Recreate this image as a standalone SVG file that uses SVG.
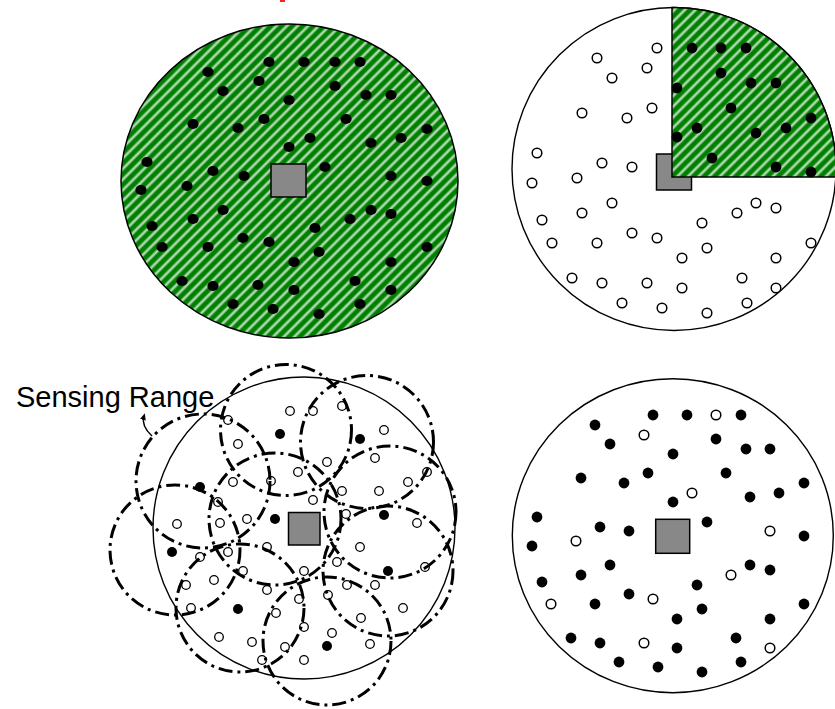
<svg xmlns="http://www.w3.org/2000/svg" width="835" height="709" viewBox="0 0 835 709">
<defs>
<linearGradient id="stripe" x1="0" y1="0" x2="1" y2="0">
<stop offset="0" stop-color="#008000"/>
<stop offset="0.22" stop-color="#008000"/>
<stop offset="0.5" stop-color="#e0f0e0"/>
<stop offset="0.78" stop-color="#008000"/>
<stop offset="1" stop-color="#008000"/>
</linearGradient>
<pattern id="hatch" patternUnits="userSpaceOnUse" width="7.5" height="7.5" patternTransform="rotate(45)">
<rect width="7.5" height="7.5" fill="url(#stripe)"/>
</pattern>
<marker id="arrowhead" markerWidth="8" markerHeight="8" refX="4" refY="4" orient="auto" markerUnits="userSpaceOnUse">
<path d="M0,1 L7,4 L0,7 Z" fill="#000"/>
</marker>
<style>
.outline{fill:none;stroke:#000;stroke-width:1.4}
.field{fill:url(#hatch);stroke:#000;stroke-width:1.5}
.sink{fill:#888;stroke:#000;stroke-width:1.5}
.f{fill:#000}
.h{fill:#fff;stroke:#000;stroke-width:1.5}
.hs{fill:#fff;stroke:#000;stroke-width:1.3}
.range{fill:none;stroke:#000;stroke-width:3;stroke-dasharray:14 5 3 5}
.label{font-family:"Liberation Sans",Arial,sans-serif;font-size:29px;fill:#000}
</style>
</defs>
<rect width="835" height="709" fill="#fff"/>
<path d="M280,0 h5 v2 h-5 Z" fill="#ff2020"/>

<g id="panel-full">
<ellipse class="field" cx="289.5" cy="181" rx="168.5" ry="157"/>
<rect class="sink" x="271" y="164" width="35" height="33"/>
<g class="f">
<ellipse cx="208" cy="72" rx="5.6" ry="5"/><ellipse cx="269" cy="62" rx="5.6" ry="5"/><ellipse cx="259" cy="81" rx="5.6" ry="5"/><ellipse cx="223" cy="91" rx="5.6" ry="5"/><ellipse cx="289" cy="100" rx="5.6" ry="5"/><ellipse cx="193" cy="124" rx="5.6" ry="5"/><ellipse cx="238" cy="128" rx="5.6" ry="5"/><ellipse cx="264" cy="119" rx="5.6" ry="5"/><ellipse cx="289" cy="147" rx="5.6" ry="5"/><ellipse cx="147" cy="162" rx="5.6" ry="5"/><ellipse cx="213" cy="171" rx="5.6" ry="5"/><ellipse cx="304" cy="62" rx="5.6" ry="5"/><ellipse cx="335" cy="62" rx="5.6" ry="5"/><ellipse cx="360" cy="62" rx="5.6" ry="5"/><ellipse cx="335" cy="86" rx="5.6" ry="5"/><ellipse cx="366" cy="95" rx="5.6" ry="5"/><ellipse cx="391" cy="95" rx="5.6" ry="5"/><ellipse cx="346" cy="119" rx="5.6" ry="5"/><ellipse cx="310" cy="138" rx="5.6" ry="5"/><ellipse cx="371" cy="143" rx="5.6" ry="5"/><ellipse cx="401" cy="138" rx="5.6" ry="5"/><ellipse cx="427" cy="129" rx="5.6" ry="5"/><ellipse cx="325" cy="167" rx="5.6" ry="5"/><ellipse cx="244" cy="176" rx="5.6" ry="5"/><ellipse cx="141" cy="190" rx="5.6" ry="5"/><ellipse cx="187" cy="186" rx="5.6" ry="5"/><ellipse cx="223" cy="210" rx="5.6" ry="5"/><ellipse cx="152" cy="226" rx="5.6" ry="5"/><ellipse cx="193" cy="219" rx="5.6" ry="5"/><ellipse cx="162" cy="247" rx="5.6" ry="5"/><ellipse cx="208" cy="247" rx="5.6" ry="5"/><ellipse cx="243" cy="238" rx="5.6" ry="5"/><ellipse cx="269" cy="242" rx="5.6" ry="5"/><ellipse cx="294" cy="262" rx="5.6" ry="5"/><ellipse cx="182" cy="281" rx="5.6" ry="5"/><ellipse cx="213" cy="286" rx="5.6" ry="5"/><ellipse cx="258" cy="285" rx="5.6" ry="5"/><ellipse cx="294" cy="290" rx="5.6" ry="5"/><ellipse cx="233" cy="304" rx="5.6" ry="5"/><ellipse cx="273" cy="309" rx="5.6" ry="5"/><ellipse cx="391" cy="176" rx="5.6" ry="5"/><ellipse cx="427" cy="181" rx="5.6" ry="5"/><ellipse cx="371" cy="210" rx="5.6" ry="5"/><ellipse cx="391" cy="214" rx="5.6" ry="5"/><ellipse cx="350" cy="219" rx="5.6" ry="5"/><ellipse cx="315" cy="228" rx="5.6" ry="5"/><ellipse cx="319" cy="252" rx="5.6" ry="5"/><ellipse cx="391" cy="262" rx="5.6" ry="5"/><ellipse cx="427" cy="247" rx="5.6" ry="5"/><ellipse cx="355" cy="281" rx="5.6" ry="5"/><ellipse cx="391" cy="290" rx="5.6" ry="5"/><ellipse cx="360" cy="304" rx="5.6" ry="5"/><ellipse cx="319" cy="314" rx="5.6" ry="5"/>
</g>
</g>

<g id="panel-quadrant">
<ellipse class="outline" cx="674" cy="169" rx="162" ry="161.5"/>
<rect class="sink" x="656.5" y="154" width="35" height="36"/>
<path class="field" d="M672,177 L672,7.5 A162,161.5 0 0 1 835.8,177 Z"/>
<g class="f">
<circle cx="692" cy="48" r="5.4"/><circle cx="721" cy="48" r="5.4"/><circle cx="746" cy="48" r="5.4"/><circle cx="721" cy="73" r="5.4"/><circle cx="751" cy="83" r="5.4"/><circle cx="776" cy="83" r="5.4"/><circle cx="677" cy="88" r="5.4"/><circle cx="731" cy="108" r="5.4"/><circle cx="697" cy="128" r="5.4"/><circle cx="677" cy="137" r="5.4"/><circle cx="756" cy="133" r="5.4"/><circle cx="786" cy="128" r="5.4"/><circle cx="811" cy="118" r="5.4"/><circle cx="712" cy="158" r="5.4"/><circle cx="776" cy="167" r="5.4"/><circle cx="811" cy="172" r="5.4"/>
</g>
<g class="h">
<circle cx="657" cy="48" r="4.8"/><circle cx="597" cy="58" r="4.8"/><circle cx="647" cy="68" r="4.8"/><circle cx="612" cy="78" r="4.8"/><circle cx="582" cy="113" r="4.8"/><circle cx="652" cy="108" r="4.8"/><circle cx="627" cy="118" r="4.8"/><circle cx="537" cy="153" r="4.8"/><circle cx="602" cy="163" r="4.8"/><circle cx="632" cy="167" r="4.8"/><circle cx="532" cy="183" r="4.8"/><circle cx="577" cy="178" r="4.8"/><circle cx="612" cy="203" r="4.8"/><circle cx="582" cy="213" r="4.8"/><circle cx="542" cy="220" r="4.8"/><circle cx="552" cy="243" r="4.8"/><circle cx="597" cy="243" r="4.8"/><circle cx="632" cy="233" r="4.8"/><circle cx="657" cy="238" r="4.8"/><circle cx="702" cy="223" r="4.8"/><circle cx="737" cy="213" r="4.8"/><circle cx="756" cy="203" r="4.8"/><circle cx="776" cy="208" r="4.8"/><circle cx="811" cy="243" r="4.8"/><circle cx="776" cy="258" r="4.8"/><circle cx="707" cy="248" r="4.8"/><circle cx="682" cy="258" r="4.8"/><circle cx="572" cy="278" r="4.8"/><circle cx="602" cy="283" r="4.8"/><circle cx="647" cy="283" r="4.8"/><circle cx="682" cy="288" r="4.8"/><circle cx="742" cy="278" r="4.8"/><circle cx="776" cy="288" r="4.8"/><circle cx="622" cy="303" r="4.8"/><circle cx="662" cy="308" r="4.8"/><circle cx="707" cy="313" r="4.8"/><circle cx="747" cy="303" r="4.8"/>
</g>
</g>

<g id="panel-ranges">
<circle class="outline" cx="304" cy="528" r="151"/>
<rect class="sink" x="288.5" y="512.5" width="31.5" height="32.5"/>
<g class="hs">
<circle cx="290" cy="411" r="4.3"/><circle cx="313" cy="411" r="4.3"/><circle cx="342" cy="406" r="4.3"/><circle cx="228" cy="420" r="4.3"/><circle cx="238" cy="444" r="4.3"/><circle cx="384" cy="430" r="4.3"/><circle cx="375" cy="458" r="4.3"/><circle cx="327" cy="462" r="4.3"/><circle cx="298" cy="472" r="4.3"/><circle cx="271" cy="481" r="4.3"/><circle cx="233" cy="482" r="4.3"/><circle cx="342" cy="491" r="4.3"/><circle cx="379" cy="491" r="4.3"/><circle cx="408" cy="482" r="4.3"/><circle cx="427" cy="472" r="4.3"/><circle cx="313" cy="500" r="4.3"/><circle cx="218" cy="502" r="4.3"/><circle cx="346" cy="514" r="4.3"/><circle cx="417" cy="523" r="4.3"/><circle cx="177" cy="524" r="4.3"/><circle cx="220" cy="523" r="4.3"/><circle cx="247" cy="519" r="4.3"/><circle cx="267" cy="547" r="4.3"/><circle cx="360" cy="547" r="4.3"/><circle cx="200" cy="557" r="4.3"/><circle cx="228" cy="552" r="4.3"/><circle cx="337" cy="562" r="4.3"/><circle cx="243" cy="571" r="4.3"/><circle cx="304" cy="571" r="4.3"/><circle cx="425" cy="567" r="4.3"/><circle cx="186" cy="585" r="4.3"/><circle cx="214" cy="580" r="4.3"/><circle cx="267" cy="590" r="4.3"/><circle cx="347" cy="585" r="4.3"/><circle cx="375" cy="585" r="4.3"/><circle cx="299" cy="599" r="4.3"/><circle cx="328" cy="595" r="4.3"/><circle cx="191" cy="608" r="4.3"/><circle cx="276" cy="613" r="4.3"/><circle cx="403" cy="608" r="4.3"/><circle cx="361" cy="618" r="4.3"/><circle cx="304" cy="627" r="4.3"/><circle cx="332" cy="633" r="4.3"/><circle cx="219" cy="637" r="4.3"/><circle cx="252" cy="642" r="4.3"/><circle cx="285" cy="647" r="4.3"/><circle cx="370" cy="644" r="4.3"/><circle cx="262" cy="660" r="4.3"/><circle cx="304" cy="660" r="4.3"/>
</g>
<g class="f">
<circle cx="200" cy="487" r="5"/><circle cx="280" cy="434" r="5"/><circle cx="360" cy="439" r="5"/><circle cx="275" cy="519" r="5"/><circle cx="384" cy="515" r="5"/><circle cx="172" cy="552" r="5"/><circle cx="388" cy="571" r="5"/><circle cx="238" cy="609" r="5"/><circle cx="327" cy="646" r="5"/>
</g>
<g id="sensing-ranges" class="range">
<circle cx="286" cy="430" r="65.5"/>
<circle cx="367" cy="442" r="66.5"/>
<circle cx="390" cy="512" r="66"/>
<circle cx="275" cy="519" r="66"/>
<circle cx="203" cy="481" r="67"/>
<circle cx="175" cy="550" r="65"/>
<circle cx="240" cy="608" r="64"/>
<circle cx="327" cy="641" r="64"/>
<circle cx="388" cy="571" r="65"/>
</g>
<text class="label" x="16" y="407">Sensing Range</text>
<path d="M152,436 Q141,426 144,416" fill="none" stroke="#000" stroke-width="1.5" marker-end="url(#arrowhead)"/>
</g>

<g id="panel-selected">
<ellipse class="outline" cx="672.8" cy="535.7" rx="160.5" ry="157"/>
<rect class="sink" x="655.7" y="519.3" width="34" height="34"/>
<g class="f">
<circle cx="595" cy="425" r="5.4"/><circle cx="653" cy="415" r="5.4"/><circle cx="687" cy="415" r="5.4"/><circle cx="741" cy="415" r="5.4"/><circle cx="610" cy="444" r="5.4"/><circle cx="673" cy="454" r="5.4"/><circle cx="716" cy="439" r="5.4"/><circle cx="746" cy="449" r="5.4"/><circle cx="770" cy="449" r="5.4"/><circle cx="581" cy="478" r="5.4"/><circle cx="624" cy="483" r="5.4"/><circle cx="648" cy="473" r="5.4"/><circle cx="726" cy="473" r="5.4"/><circle cx="804" cy="483" r="5.4"/><circle cx="750" cy="497" r="5.4"/><circle cx="779" cy="493" r="5.4"/><circle cx="673" cy="502" r="5.4"/><circle cx="537" cy="517" r="5.4"/><circle cx="600" cy="527" r="5.4"/><circle cx="629" cy="531" r="5.4"/><circle cx="707" cy="522" r="5.4"/><circle cx="532" cy="546" r="5.4"/><circle cx="804" cy="536" r="5.4"/><circle cx="610" cy="565" r="5.4"/><circle cx="581" cy="575" r="5.4"/><circle cx="542" cy="582" r="5.4"/><circle cx="750" cy="565" r="5.4"/><circle cx="770" cy="570" r="5.4"/><circle cx="697" cy="585" r="5.4"/><circle cx="629" cy="594" r="5.4"/><circle cx="595" cy="604" r="5.4"/><circle cx="702" cy="609" r="5.4"/><circle cx="677" cy="619" r="5.4"/><circle cx="804" cy="604" r="5.4"/><circle cx="770" cy="619" r="5.4"/><circle cx="571" cy="638" r="5.4"/><circle cx="600" cy="643" r="5.4"/><circle cx="677" cy="648" r="5.4"/><circle cx="736" cy="638" r="5.4"/><circle cx="619" cy="662" r="5.4"/><circle cx="658" cy="667" r="5.4"/><circle cx="702" cy="672" r="5.4"/><circle cx="741" cy="662" r="5.4"/>
</g>
<g class="h">
<circle cx="716" cy="415" r="4.8"/><circle cx="644" cy="435" r="4.8"/><circle cx="692" cy="493" r="4.8"/><circle cx="770" cy="531" r="4.8"/><circle cx="576" cy="541" r="4.8"/><circle cx="731" cy="575" r="4.8"/><circle cx="551" cy="604" r="4.8"/><circle cx="653" cy="599" r="4.8"/><circle cx="644" cy="643" r="4.8"/><circle cx="770" cy="648" r="4.8"/>
</g>
</g>
</svg>
